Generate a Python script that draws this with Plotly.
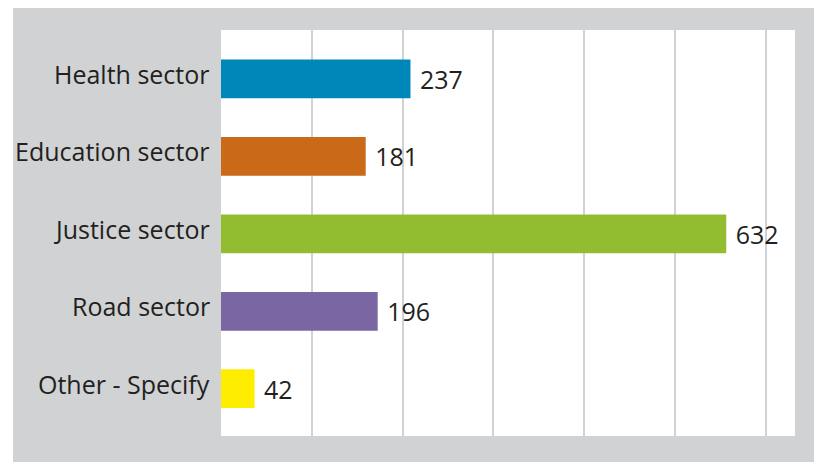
import plotly.graph_objects as go

sectors = ["Health sector", "Education sector", "Justice sector", "Road sector", "Other - Specify"]
counts = [237, 181, 632, 196, 42]
colors = ["#0087ba", "#ca6918", "#93bd31", "#7a66a2", "#ffed00"]

# figure sits inside the page's 8px body margin; panel wanted at x 221..795, y 30..436 of the window
OFF = 8
W, H = 822 - OFF, 462 - OFF
L, T = 221 - OFF, 30 - OFF
pw, ph = 574, 406
R, B = W - L - pw, H - T - ph

fig = go.Figure()
fig.add_trace(
    go.Bar(
        y=sectors,
        x=counts,
        orientation="h",
        marker=dict(color=colors, line=dict(width=0)),
        width=0.5,
        text=[" " + str(v) for v in counts],
        textposition="outside",
        cliponaxis=False,
        textfont=dict(size=25, color="#231f20", family="Open Sans"),
        showlegend=False,
    )
)

# category labels sit a little above the bar centres
for s in sectors:
    fig.add_annotation(
        x=0, xref="paper", y=s, yref="y", text=s, showarrow=False,
        xanchor="right", xshift=-9, yshift=5,
        font=dict(size=25, color="#231f20", family="Open Sans"),
    )

# grey frame + white plot panel
fig.add_shape(type="rect", xref="paper", yref="paper", layer="below",
              x0=(13 - OFF - L) / pw, x1=(815 - OFF - L) / pw,
              y0=-0.3, y1=(T + ph + 2) / ph,
              fillcolor="#d1d2d4", line=dict(width=0))
fig.add_shape(type="rect", xref="paper", yref="paper", layer="below",
              x0=0, x1=1, y0=0, y1=1, fillcolor="white", line=dict(width=0))

fig.update_layout(
    width=W, height=H,
    margin=dict(l=L, r=R, t=T, b=B),
    paper_bgcolor="white",
    plot_bgcolor="rgba(0,0,0,0)",
    font=dict(family="Open Sans", color="#231f20"),
)
fig.update_xaxes(
    range=[0, 718], tick0=0, dtick=113.6, showgrid=True,
    gridcolor="#d1d2d4", gridwidth=2, showticklabels=False,
    zeroline=False, showline=False, ticks="",
)
fig.update_yaxes(
    type="category", range=[4.61, -0.63], showgrid=False, zeroline=False,
    ticks="", showticklabels=False,
)

fig.write_html("out.html")
